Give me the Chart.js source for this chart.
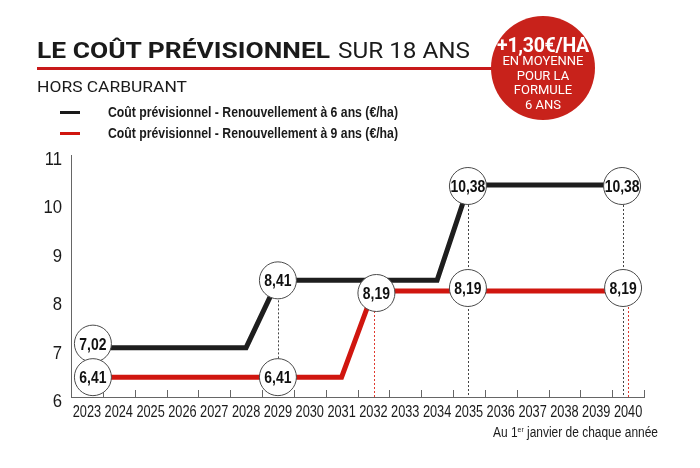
<!DOCTYPE html>
<html lang="fr">
<head>
<meta charset="utf-8">
<script src="https://cdn.jsdelivr.net/npm/chart.js@4.4.1/dist/chart.umd.min.js"></script>
<style>
  html, body { margin:0; padding:0; background:#fff; }
  #wrap { position:relative; width:700px; height:468px; overflow:hidden; background:#fff; }
  #c { position:absolute; left:0; top:0; }
  .abs { position:absolute; white-space:nowrap; transform-origin:left top; }
  .lib { font-family:'Liberation Sans',Arial,sans-serif; }
  .rob { font-family:Roboto,'Liberation Sans',sans-serif; }
</style>
</head>
<body>
<div id="wrap">
  <canvas id="c" width="700" height="468"></canvas>

  <div id="tBold" class="abs rob" style="left:37px;top:39px;font-size:22.5px;line-height:22.5px;font-weight:700;color:#1a1a1a;">LE COÛT PRÉVISIONNEL</div>
  <div id="tReg" class="abs rob" style="left:338px;top:39px;font-size:22.5px;line-height:22.5px;font-weight:400;color:#1a1a1a;">SUR 18 ANS</div>
  <div class="abs" style="left:37px;top:67px;width:455px;height:3px;background:#c8191a;"></div>
  <div id="sub" class="abs rob" style="left:37px;top:80px;font-size:15.5px;line-height:15.5px;color:#1a1a1a;">HORS CARBURANT</div>

  <div class="abs" style="left:60px;top:110.5px;width:20px;height:3px;background:#1a1a1a;"></div>
  <div id="leg1" class="abs lib" style="left:108px;top:105px;font-size:14px;line-height:14px;font-weight:700;color:#1a1a1a;">Coût prévisionnel - Renouvellement à 6 ans (€/ha)</div>
  <div class="abs" style="left:60px;top:131.5px;width:20px;height:3px;background:#d0160f;"></div>
  <div id="leg2" class="abs lib" style="left:108px;top:125.5px;font-size:14px;line-height:14px;font-weight:700;color:#1a1a1a;">Coût prévisionnel - Renouvellement à 9 ans (€/ha)</div>

  <div class="abs" style="left:491px;top:16px;width:104px;height:104px;border-radius:50%;background:#c8221b;"></div>
  <div class="abs rob" style="left:471px;width:144px;text-align:center;top:35.5px;font-size:19.5px;line-height:19.5px;font-weight:700;color:#fff;letter-spacing:-0.3px;">+1,30€/HA</div>
  <div class="abs rob" style="left:471px;width:144px;text-align:center;top:54px;font-size:13px;line-height:13px;color:#fff;">EN MOYENNE</div>
  <div class="abs rob" style="left:471px;width:144px;text-align:center;top:69px;font-size:13px;line-height:13px;color:#fff;">POUR LA</div>
  <div class="abs rob" style="left:471px;width:144px;text-align:center;top:83px;font-size:13px;line-height:13px;color:#fff;">FORMULE</div>
  <div class="abs rob" style="left:471px;width:144px;text-align:center;top:98px;font-size:13px;line-height:13px;color:#fff;">6 ANS</div>

  <div id="foot" class="abs lib" style="left:493px;top:425px;font-size:14px;line-height:14px;color:#1a1a1a;">Au 1<span style="font-size:8px;position:relative;top:-5px;">er</span> janvier de chaque année</div>
</div>

<script>
// ---- DATA ----
const years = ['2023','2024','2025','2026','2027','2028','2029','2030','2031','2032','2033','2034','2035','2036','2037','2038','2039','2040'];
const cost6 = [7.02,7.02,7.02,7.02,7.02,7.02,8.41,8.41,8.41,8.41,8.41,8.41,10.38,10.38,10.38,10.38,10.38,10.38];
const cost9 = [6.41,6.41,6.41,6.41,6.41,6.41,6.41,6.41,6.41,8.19,8.19,8.19,8.19,8.19,8.19,8.19,8.19,8.19];
const yTicks = [6,7,8,9,10,11];
const seriesNames = ['Coût prévisionnel - Renouvellement à 6 ans (€/ha)','Coût prévisionnel - Renouvellement à 9 ans (€/ha)'];

// ---- STYLE / ANNOTATION CONFIG ----
const SANS = "'Liberation Sans',Arial,sans-serif";
const BLACK = '#1e1e1e', RED = '#d0160f';
const labelled = [
  {ds:0, i:0, dx:6, dy:-4}, {ds:1, i:0, dx:6, dy:0},
  {ds:0, i:6, dx:0, dy:0}, {ds:1, i:6, dx:0, dy:0},
  {ds:1, i:9, dx:3, dy:2},
  {ds:0, i:12, dx:-1, dy:1}, {ds:1, i:12, dx:-1, dy:-3},
  {ds:0, i:17, dx:-6, dy:1}, {ds:1, i:17, dx:-5, dy:-3}
];
const guides = [
  {ds:1, i:0, dx:3, color:'#e0392e'},
  {ds:0, i:6, dx:0, toDs:1, color:'#444'},
  {ds:1, i:9, dx:1, color:'#e0392e'},
  {ds:0, i:12, dx:-1, color:'#444'},
  {ds:0, i:17, dx:-5, color:'#444'},
  {ds:1, i:17, dx:0, color:'#e0392e'}
];

function narrowText(ctx, text, x, y, sx, align){
  ctx.save(); ctx.translate(x, y); ctx.scale(sx, 1);
  ctx.textAlign = align; ctx.fillText(text, 0, 0); ctx.restore();
}

const decor = {
  id:'decor',
  beforeDatasetsDraw(chart){
    const {ctx, chartArea, scales:{x, y}} = chart;
    ctx.save();
    ctx.lineWidth = 1;
    ctx.setLineDash([2,2]);
    guides.forEach(g => {
      const v = chart.data.datasets[g.ds].data[g.i];
      const px = Math.round(x.getPixelForValue(g.i) + g.dx) + 0.5;
      const y0 = y.getPixelForValue(v);
      const y1 = g.toDs !== undefined ? y.getPixelForValue(chart.data.datasets[g.toDs].data[g.i]) : chartArea.bottom;
      ctx.strokeStyle = g.color;
      ctx.beginPath(); ctx.moveTo(px, y0); ctx.lineTo(px, y1); ctx.stroke();
    });
    ctx.restore();
  },
  afterDatasetsDraw(chart){
    const {ctx, chartArea, scales:{x, y}} = chart;
    ctx.save();
    // upward tick marks at category boundaries
    ctx.strokeStyle = '#666'; ctx.lineWidth = 1;
    const n = chart.data.labels.length;
    const band = (chartArea.right - chartArea.left) / n;
    for (let k = 1; k <= n; k++) {
      const px = Math.round(chartArea.left + k*band) + 0.5;
      ctx.beginPath(); ctx.moveTo(px, chartArea.bottom); ctx.lineTo(px, chartArea.bottom - 7); ctx.stroke();
    }
    // axis tick labels (condensed)
    ctx.fillStyle = '#1a1a1a';
    ctx.textBaseline = 'alphabetic';
    ctx.font = "17px " + SANS;
    chart.data.labels.forEach((lab, i) => narrowText(ctx, lab, x.getPixelForValue(i), chartArea.bottom + 20, 0.75, 'center'));
    ctx.font = "19px " + SANS;
    yTicks.forEach(v => narrowText(ctx, String(v), chartArea.left - 9, y.getPixelForValue(v) + 10, 0.88, 'right'));
    // value bubbles
    labelled.forEach(p => {
      const v = chart.data.datasets[p.ds].data[p.i];
      const cx = x.getPixelForValue(p.i) + p.dx;
      const cy = y.getPixelForValue(v) + p.dy;
      ctx.beginPath(); ctx.arc(cx, cy, 18.5, 0, Math.PI*2);
      ctx.fillStyle = '#fff'; ctx.fill();
      ctx.strokeStyle = '#4a4a4a'; ctx.lineWidth = 1; ctx.stroke();
      ctx.fillStyle = '#111';
      ctx.font = "bold 16px " + SANS;
      ctx.textBaseline = 'alphabetic';
      narrowText(ctx, v.toFixed(2).replace('.', ','), cx, cy + 6, 0.87, 'center');
    });
    ctx.restore();
  }
};

new Chart(document.getElementById('c'), {
  type:'line',
  data:{
    labels: years,
    datasets:[
      {label: seriesNames[0], data: cost6, borderColor: BLACK, borderWidth: 5, pointRadius: 0, tension: 0, fill:false},
      {label: seriesNames[1], data: cost9, borderColor: RED, borderWidth: 5, pointRadius: 0, tension: 0, fill:false}
    ]
  },
  options:{
    responsive:false,
    animation:false,
    events:[],
    layout:{ padding:{ top:155, right:56, bottom:0, left:0 } },
    plugins:{ legend:{display:false}, tooltip:{enabled:false}, title:{display:false} },
    scales:{
      x:{
        offset:true,
        grid:{ display:false, drawTicks:false, offset:true },
        border:{ display:true, color:'#666', width:1 },
        ticks:{ display:false, autoSkip:false },
        afterFit(s){ s.height = 71; }
      },
      y:{
        min: yTicks[0], max: yTicks[yTicks.length-1],
        afterBuildTicks(s){ s.ticks = yTicks.map(v => ({value:v})); },
        grid:{ display:false, drawTicks:false },
        border:{ display:true, color:'#666', width:1 },
        ticks:{ display:false },
        afterFit(s){ s.width = 71; }
      }
    }
  },
  plugins:[decor]
});

// fit HTML text blocks to the widths measured on the reference
function fit(id, w){
  const el = document.getElementById(id);
  const r = el.getBoundingClientRect().width;
  if (r > 0) el.style.transform = 'scaleX(' + (w / r) + ')';
}
fit('tBold', 293); fit('tReg', 132); fit('sub', 150);
fit('leg1', 290); fit('leg2', 290); fit('foot', 165);
</script>
</body>
</html>
